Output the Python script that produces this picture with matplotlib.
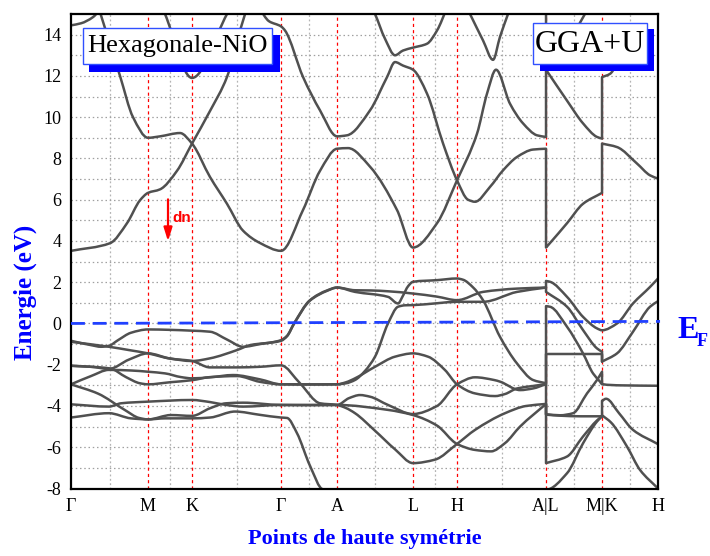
import matplotlib
import numpy as np

matplotlib.use("Agg")
import matplotlib.pyplot as plt
from matplotlib.patches import PathPatch, Rectangle
from matplotlib.path import Path

# high-symmetry path
KPOINT_LABELS = ["Γ", "M", "K", "Γ", "A", "L", "H", "A|L", "M|K", "H"]
KPOINT_POS = [0.0, 0.77, 1.21, 2.10, 2.66, 3.42, 3.86, 4.75, 5.31, 5.87]

# conduction bands, (k, E) in eV
BAND_C1 = [(0.0, 3.52), (0.39, 3.89), (0.56, 4.86), (0.69, 5.97), (0.77, 6.33), (0.89, 6.5),
           (1.06, 7.4), (1.21, 8.72), (1.39, 10.3), (1.56, 11.95), (1.69, 14.2), (1.78, 15.6)]
BAND_C2 = [(0.27, 15.4), (0.49, 12.0), (0.62, 10.0), (0.77, 9.0), (0.89, 9.07), (1.09, 9.23),
           (1.21, 8.72), (1.39, 7.1), (1.56, 5.8), (1.72, 4.5), (1.89, 3.9), (2.10, 3.52),
           (2.32, 5.5), (2.49, 7.4), (2.66, 8.47), (2.77, 8.5), (2.99, 7.6), (3.26, 5.5),
           (3.42, 3.68), (3.66, 4.86), (3.86, 6.94), (4.06, 9.2), (4.16, 11.14), (4.25, 12.3),
           (4.39, 10.65), (4.52, 9.7), (4.66, 9.12), (4.75, 9.04),
           (4.75, 12.3), (4.96, 10.8), (5.12, 9.7), (5.26, 9.04), (5.31, 8.96),
           (5.31, 11.94), (5.39, 12.1), (5.5, 13.0)]
BAND_C3 = [(1.88, 15.3), (1.98, 14.65), (2.10, 14.4), (2.14, 14.2), (2.32, 11.95), (2.49, 10.33),
           (2.66, 9.07), (2.76, 9.12), (2.99, 10.33), (3.16, 11.94), (3.24, 12.67), (3.32, 12.5),
           (3.42, 12.3), (3.56, 11.14), (3.72, 8.73), (3.86, 6.94), (3.97, 6.0), (4.04, 5.9),
           (4.19, 6.62), (4.32, 7.42), (4.46, 8.07), (4.62, 8.43), (4.75, 8.47),
           (4.75, 3.68), (4.79, 3.9), (4.96, 4.86), (5.12, 5.8), (5.31, 6.33),
           (5.31, 8.72), (5.46, 8.55), (5.66, 7.75), (5.79, 7.18), (5.87, 7.02)]
BAND_C4 = [(2.98, 15.6), (3.04, 15.0), (3.14, 13.8), (3.24, 13.0), (3.32, 13.23), (3.42, 13.37),
           (3.56, 13.56), (3.66, 14.2), (3.76, 15.3)]
BAND_C5 = [(3.99, 15.0), (4.12, 13.72), (4.22, 12.78), (4.29, 13.9), (4.37, 15.0)]
BAND_C6 = [(0.94, 15.0), (1.21, 11.9), (1.56, 15.0)]
BAND_C7 = [(0.0, 14.45), (0.1, 14.55), (0.22, 14.85), (0.32, 15.4)]
BAND_C8 = [(4.55, 15.6), (4.75, 15.3), (4.75, 13.37), (5.0, 14.0), (5.2, 15.5)]

# valence bands
BAND_V1 = [(0.0, -0.84), (0.2, -1.05), (0.3, -1.13), (0.38, -1.08), (0.47, -0.81), (0.6, -0.45),
           (0.77, -0.29), (0.99, -0.31), (1.21, -0.35), (1.39, -0.4), (1.56, -0.78), (1.72, -1.13),
           (1.89, -1.0), (2.10, -0.81), (2.16, -0.6), (2.23, 0.0), (2.39, 1.13), (2.56, 1.6),
           (2.66, 1.74), (2.84, 1.61), (3.0, 1.6), (3.17, 1.56), (3.42, 1.45), (3.66, 1.3),
           (3.86, 1.13), (4.12, 1.53), (4.46, 1.69), (4.75, 1.74),
           (4.75, 1.53), (4.96, 0.81), (5.12, -0.32), (5.26, -1.21), (5.31, -1.37),
           (5.31, -1.85), (5.46, -1.45), (5.62, -0.4), (5.79, 0.81), (5.87, 1.08)]
BAND_V2 = [(0.0, -0.89), (0.38, -1.13), (0.58, -1.29), (0.77, -1.45), (0.99, -1.7), (1.21, -1.82),
           (1.39, -1.69), (1.66, -1.29), (1.79, -1.05), (2.10, -0.84), (2.16, -0.62), (2.23, -0.02),
           (2.39, 1.11), (2.56, 1.58), (2.66, 1.74), (2.84, 1.53), (3.17, 1.29), (3.27, 0.97),
           (3.32, 1.35), (3.37, 1.8), (3.42, 2.02), (3.66, 2.1), (3.86, 2.18), (3.92, 2.12),
           (4.02, 1.75), (4.12, 1.13), (4.29, -0.65), (4.46, -1.94), (4.62, -2.74), (4.75, -2.9),
           (4.75, 0.84), (4.79, 0.81), (4.96, -0.16), (5.12, -1.45), (5.22, -2.42), (5.29, -2.82),
           (5.31, -2.94), (5.5, -3.0), (5.87, -3.02)]
BAND_V3 = [(0.0, -2.05), (0.2, -2.1), (0.38, -2.2), (0.58, -1.75), (0.77, -1.45), (0.99, -1.7),
           (1.21, -1.82), (1.39, -2.13), (1.66, -2.13), (1.89, -2.1), (2.10, -2.03), (2.29, -2.9),
           (2.49, -3.87), (2.66, -3.95), (2.75, -4.1), (2.84, -4.35), (3.04, -5.2), (3.24, -6.1),
           (3.42, -6.77), (3.64, -6.6), (3.86, -5.84), (4.04, -5.16), (4.34, -4.35), (4.55, -4.0),
           (4.75, -3.9), (4.75, -6.77), (4.96, -6.45), (5.12, -5.48), (5.26, -4.7), (5.31, -4.5)]
BAND_V4 = [(0.0, -2.05), (0.39, -2.18), (0.55, -2.6), (0.69, -2.9), (0.77, -2.95), (0.99, -2.85),
           (1.21, -2.75), (1.39, -2.6), (1.66, -2.55), (1.89, -2.83), (2.10, -2.95), (2.4, -2.95),
           (2.66, -2.95), (2.75, -2.9), (2.84, -2.74), (2.94, -2.3), (3.04, -1.61), (3.17, 0.0),
           (3.27, 0.81), (3.34, 0.88), (3.42, 0.89), (3.66, 0.98), (3.86, 1.05), (4.12, 1.05),
           (4.46, 1.53), (4.75, 1.74),
           (4.75, 2.06), (4.79, 2.02), (4.96, 1.29), (5.12, 0.32), (5.26, -0.24), (5.31, -0.33),
           (5.46, 0.0), (5.62, 0.97), (5.79, 1.77), (5.87, 2.18)]
BAND_V5 = [(0.0, -2.95), (0.2, -2.55), (0.38, -2.25), (0.6, -2.28), (0.77, -2.34), (0.94, -2.42),
           (1.1, -2.6), (1.21, -2.66), (1.39, -2.61), (1.62, -2.5), (1.89, -2.71), (2.10, -2.95),
           (2.4, -2.96), (2.66, -2.95), (2.75, -2.85), (2.84, -2.66), (3.04, -2.1), (3.24, -1.61),
           (3.42, -1.45), (3.57, -1.61), (3.74, -2.26), (3.86, -2.95), (4.04, -3.39), (4.24, -3.52),
           (4.34, -3.42), (4.46, -3.15), (4.62, -3.03), (4.75, -2.94),
           (4.75, -1.48), (5.31, -1.48), (5.31, -1.85)]
BAND_V6 = [(0.0, -3.92), (0.38, -4.03), (0.5, -3.87), (0.77, -3.79), (1.21, -3.71), (1.39, -3.81),
           (1.55, -3.95), (1.72, -4.03), (2.10, -3.95), (2.4, -3.95), (2.66, -3.95), (2.78, -3.62),
           (2.89, -3.47), (2.99, -3.55), (3.17, -3.95), (3.42, -4.39), (3.66, -4.0), (3.86, -2.95),
           (4.04, -2.61), (4.23, -2.74), (4.29, -2.82), (4.49, -3.23), (4.62, -3.15), (4.75, -2.94),
           (4.75, -4.4), (4.89, -4.45), (5.02, -4.35), (5.16, -3.39), (5.26, -2.74), (5.31, -2.34),
           (5.31, -2.94)]
BAND_V7 = [(0.0, -2.95), (0.27, -3.4), (0.54, -4.2), (0.68, -4.58), (0.77, -4.65), (0.94, -4.6),
           (1.21, -4.6), (1.39, -4.56), (1.64, -4.27), (1.89, -4.43), (2.10, -4.56), (2.16, -4.58),
           (2.26, -5.32), (2.39, -6.9), (2.52, -8.04), (2.7, -8.07), (4.75, -8.06),
           (4.96, -7.26), (5.12, -5.81), (5.26, -4.75), (5.31, -4.5),
           (5.31, -3.75), (5.35, -3.65), (5.48, -4.35), (5.62, -5.16), (5.87, -5.85)]
BAND_V8 = [(0.0, -4.56), (0.38, -4.35), (0.6, -4.6), (0.77, -4.65), (1.0, -4.44), (1.21, -4.48),
           (1.39, -4.11), (1.55, -3.87), (1.72, -3.84), (2.10, -3.95), (2.4, -3.96), (2.66, -3.95),
           (3.17, -4.19), (3.42, -4.44), (3.66, -4.95), (3.86, -5.84), (4.04, -6.13), (4.2, -6.2),
           (4.34, -5.8), (4.49, -5.0), (4.75, -3.9),
           (4.75, -4.42), (4.89, -4.47), (5.1, -4.5), (5.31, -4.5), (5.31, -4.45), (5.4, -4.8),
           (5.56, -5.97), (5.69, -7.1), (5.87, -8.0)]

BANDS = [BAND_C1, BAND_C2, BAND_C3, BAND_C4, BAND_C5, BAND_C6, BAND_C7, BAND_C8,
         BAND_V1, BAND_V2, BAND_V3, BAND_V4, BAND_V5, BAND_V6, BAND_V7, BAND_V8]

FERMI_LEVEL = [(0.0, 0.0), (5.89, 0.1)]
Y_TICKS = list(range(-8, 15, 2))

SERIF = ["Liberation Serif", "DejaVu Serif"]
BAND_COLOR = "#505050"
BLUE = "#0000ff"


def band_path(points):
    """Smooth path through the band points, straight where the k value repeats."""
    verts, codes = [points[0]], [Path.MOVETO]
    runs, run = [], [points[0]]
    for p in points[1:]:
        if abs(p[0] - run[-1][0]) < 1e-9:
            runs.append(run)
            run = [p]
        else:
            run.append(p)
    runs.append(run)
    for i, run in enumerate(runs):
        if i > 0:
            verts.append(run[0])
            codes.append(Path.LINETO)
        if len(run) == 1:
            continue
        k = np.array([p[0] for p in run])
        e = np.array([p[1] for p in run])
        h = np.diff(k)
        d = np.diff(e) / h
        m = np.zeros_like(e)
        m[0], m[-1] = d[0], d[-1]
        for j in range(1, len(run) - 1):
            if d[j - 1] * d[j] > 0:
                w1, w2 = 2 * h[j] + h[j - 1], h[j] + 2 * h[j - 1]
                m[j] = (w1 + w2) / (w1 / d[j - 1] + w2 / d[j])
        for j in range(len(run) - 1):
            verts += [(k[j] + h[j] / 3, e[j] + m[j] * h[j] / 3),
                      (k[j + 1] - h[j] / 3, e[j + 1] - m[j + 1] * h[j] / 3),
                      (k[j + 1], e[j + 1])]
            codes += [Path.CURVE4] * 3
    return Path(verts, codes)


def px_box(fig, x0, y0, x1, y1, **kw):
    w, h = fig.get_size_inches() * fig.dpi
    return Rectangle((x0 / w, 1 - y1 / h), (x1 - x0) / w, (y1 - y0) / h,
                     transform=fig.transFigure, clip_on=False, **kw)


fig = plt.figure(figsize=(7.10, 5.56), dpi=100)
ax = fig.add_axes([0.1, 0.1214, 0.8268, 0.8534])
ax.set_xlim(KPOINT_POS[0], KPOINT_POS[-1])
ax.set_ylim(-8, 15)

# grid: dotted at 1 eV steps and path midpoints, red dashes at the symmetry points
mids = [(a + b) / 2 for a, b in zip(KPOINT_POS[:-1], KPOINT_POS[1:])]
for x in mids:
    ax.axvline(x, color="#b4b4b4", ls=(0, (1.5, 2)), lw=0.9, zorder=0)
for y in range(-7, 15):
    ax.axhline(y, color="#a0a0a0", ls=(0, (1.2, 2.2)), lw=0.9, zorder=0)
for x in KPOINT_POS[1:-1]:
    ax.axvline(x, color="red", ls=(0, (2.5, 2.5)), lw=0.9, zorder=1)

for band in BANDS:
    ax.add_patch(PathPatch(band_path(band), fill=False, ec=BAND_COLOR, lw=1.8,
                           capstyle="round", joinstyle="round", zorder=2))

(k0, e0), (k1, e1) = FERMI_LEVEL
ax.plot([k0, k1], [e0, e1], color="#2040ff", lw=2, ls=(0, (5, 2.8)), clip_on=False, zorder=3)

ax.set_xticks(KPOINT_POS)
ax.set_xticklabels(KPOINT_LABELS, family=SERIF, fontsize=13)
ax.set_yticks(Y_TICKS)
ax.set_yticklabels([str(t) for t in Y_TICKS], family=SERIF, fontsize=13)
ax.tick_params(length=0, pad=7)
for s in ax.spines.values():
    s.set_linewidth(1.6)

ax.set_ylabel("Energie (eV)", family=SERIF, fontsize=18, fontweight="bold", color=BLUE)
ax.yaxis.set_label_coords(-0.058, 0.414)
ax.set_xlabel("Points de haute symétrie", family=SERIF, fontsize=16, fontweight="bold",
              color=BLUE, labelpad=10)

# spin channel arrow
ax.annotate("", xy=(0.97, 3.85), xytext=(0.97, 6.15),
            arrowprops=dict(arrowstyle="-|>,head_width=0.25,head_length=0.8", color="red", lw=1.6))
ax.text(1.01, 5.1, "dn", color="red", fontsize=11, fontweight="bold", family="Liberation Sans",
        va="center", ha="left")

# E_F label
fig.text(677 / 710, 1 - 331 / 556, "E", family=SERIF, fontsize=23, fontweight="bold",
         color=BLUE, va="center", ha="left")
fig.text(697 / 710, 1 - 342 / 556, "F", family=SERIF, fontsize=13, fontweight="bold",
         color=BLUE, va="center", ha="left")

# title boxes with drop shadows
fig.patches.append(px_box(fig, 89, 35, 280, 72, fc=BLUE, ec="none", zorder=5))
fig.patches.append(px_box(fig, 83, 28, 272, 64, fc="white", ec="#3050ff", lw=1.0, zorder=6))
fig.text(177.5 / 710, 1 - 46 / 556, "Hexagonale-NiO", family=SERIF, fontsize=19,
         va="center", ha="center", zorder=7)
fig.patches.append(px_box(fig, 540, 29, 654, 71, fc=BLUE, ec="none", zorder=5))
fig.patches.append(px_box(fig, 533, 23, 647, 64, fc="white", ec="#3050ff", lw=1.0, zorder=6))
fig.text(590 / 710, 1 - 44 / 556, "GGA+U", family=SERIF, fontsize=23,
         va="center", ha="center", zorder=7)

fig.savefig("out.png", dpi=100)
